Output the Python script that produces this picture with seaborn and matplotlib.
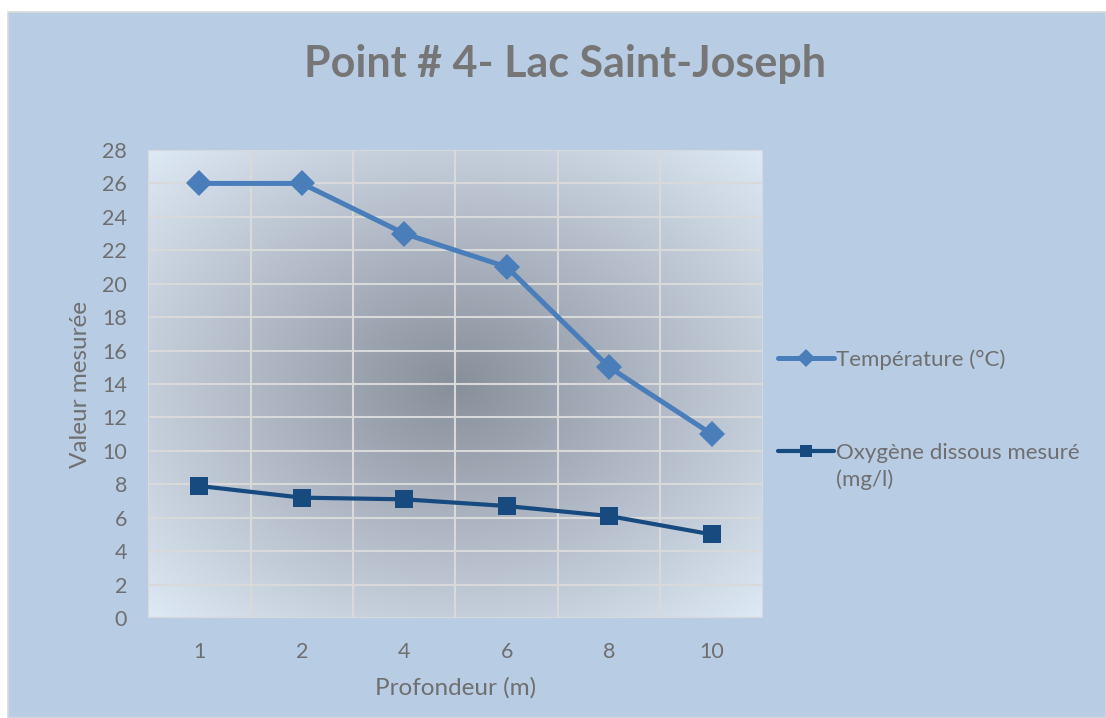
import numpy as np
import pandas as pd
import matplotlib
matplotlib.use('Agg')
import matplotlib.pyplot as plt
from matplotlib.colors import LinearSegmentedColormap
from matplotlib.patches import Rectangle
import seaborn as sns

# Data
profondeur = ['1', '2', '4', '6', '8', '10']
temperature = [26, 26, 23, 21, 15, 11]
oxygene = [7.9, 7.2, 7.1, 6.7, 6.1, 5.0]
y_ticks = list(range(0, 29, 2))

TEMP_LABEL = 'Température (°C)'
OXY_LABEL = 'Oxygène dissous mesuré'
OXY_UNIT = '(mg/l)'

sns.set_theme(style='white')
plt.rcParams['font.family'] = ['Lato', 'DejaVu Sans']

GRAY_TEXT = '#6f6f6f'
BG = '#b8cce4'
W, H = 1106, 718

fig = plt.figure(figsize=(W / 100, H / 100), dpi=100)
fig.patch.set_facecolor('white')
# chart area (Excel style panel)
panel = Rectangle((8 / W, 0), 1 - 8 / W, 1 - 12 / H,
                  transform=fig.transFigure, facecolor=BG,
                  edgecolor='#d9d9d9', linewidth=1.2, zorder=-10)
fig.patches.append(panel)

ax = fig.add_axes([148 / W, 1 - 618 / H, 615 / W, 468 / H])
ax.set_facecolor('none')
ax.set_zorder(1)

# radial gradient background of the plot area
gx, gy = np.meshgrid(np.linspace(-1, 1, 300), np.linspace(-1, 1, 300))
r = np.clip(np.sqrt(gx ** 2 + gy ** 2) / np.sqrt(2), 0, 1)
cmap = LinearSegmentedColormap.from_list('bg', ['#878f9b', '#b3bcc8', '#dde9f5'])
ax.imshow(r, cmap=cmap, extent=(-0.5, 5.5, 0, 28), aspect='auto',
          origin='lower', zorder=0, vmin=0, vmax=1)

df = pd.DataFrame({'Profondeur': profondeur,
                   'Temperature': temperature,
                   'Oxygene': oxygene})

sns.lineplot(data=df, x='Profondeur', y='Temperature', ax=ax, sort=False,
             color='#4a7ebb', linewidth=3.6, marker='D', markersize=13,
             markeredgewidth=0, label=TEMP_LABEL, zorder=3)
sns.lineplot(data=df, x='Profondeur', y='Oxygene', ax=ax, sort=False,
             color='#174a7f', linewidth=3.0, marker='s', markersize=12.5,
             markeredgewidth=0, label=OXY_LABEL, zorder=3)

ax.set_xlim(-0.5, 5.5)
ax.set_ylim(0, 28)
ax.set_yticks(y_ticks)
ax.set_xticks(range(len(profondeur)))
ax.set_xticklabels(profondeur)
ax.set_xticks(np.arange(-0.5, 5.6, 1), minor=True)
ax.grid(True, which='minor', axis='x', color='#d9d9d9', linewidth=1.5, zorder=1)
ax.grid(True, which='major', axis='y', color='#d9d9d9', linewidth=1.5, zorder=1)
ax.grid(False, which='major', axis='x')
for s in ax.spines.values():
    s.set_visible(False)
ax.axhline(0, color='#d9d9d9', linewidth=1.5, zorder=2)

ax.tick_params(axis='both', which='both', length=0, labelsize=15.5,
               labelcolor=GRAY_TEXT)
ax.tick_params(axis='x', pad=17)
ax.tick_params(axis='y', pad=15)

ax.set_xlabel('Profondeur (m)', fontsize=17.5, color=GRAY_TEXT)
ax.set_ylabel('Valeur mesurée', fontsize=17.5, color=GRAY_TEXT)
ax.xaxis.set_label_coords(0.5, (618 - 688) / 468)
ax.yaxis.set_label_coords((80 - 148) / 615, 0.5)
ax.xaxis.label.set_va('center')
ax.yaxis.label.set_va('center')

fig.text(565 / W, 1 - 64 / H, 'Point # 4- Lac Saint-Joseph',
         ha='center', va='center', fontsize=31, fontweight='bold',
         color='#767676')

leg = ax.legend(loc='center left', bbox_to_anchor=(778 / W, 1 - 406 / H),
                bbox_transform=fig.transFigure, frameon=False, fontsize=16,
                handlelength=2.5, handletextpad=0.1, labelspacing=3.3,
                borderaxespad=0, borderpad=0, markerscale=0.7)
for t in leg.get_texts():
    t.set_color(GRAY_TEXT)

# second line of the oxygen label, aligned under the legend text
fig.canvas.draw()
bb = leg.get_texts()[1].get_window_extent()
fig.text(bb.x0 / W, (bb.y0 - 6) / H, OXY_UNIT, ha='left', va='top',
         fontsize=16, color=GRAY_TEXT)

fig.savefig('out.png', dpi=100, facecolor=fig.get_facecolor())
